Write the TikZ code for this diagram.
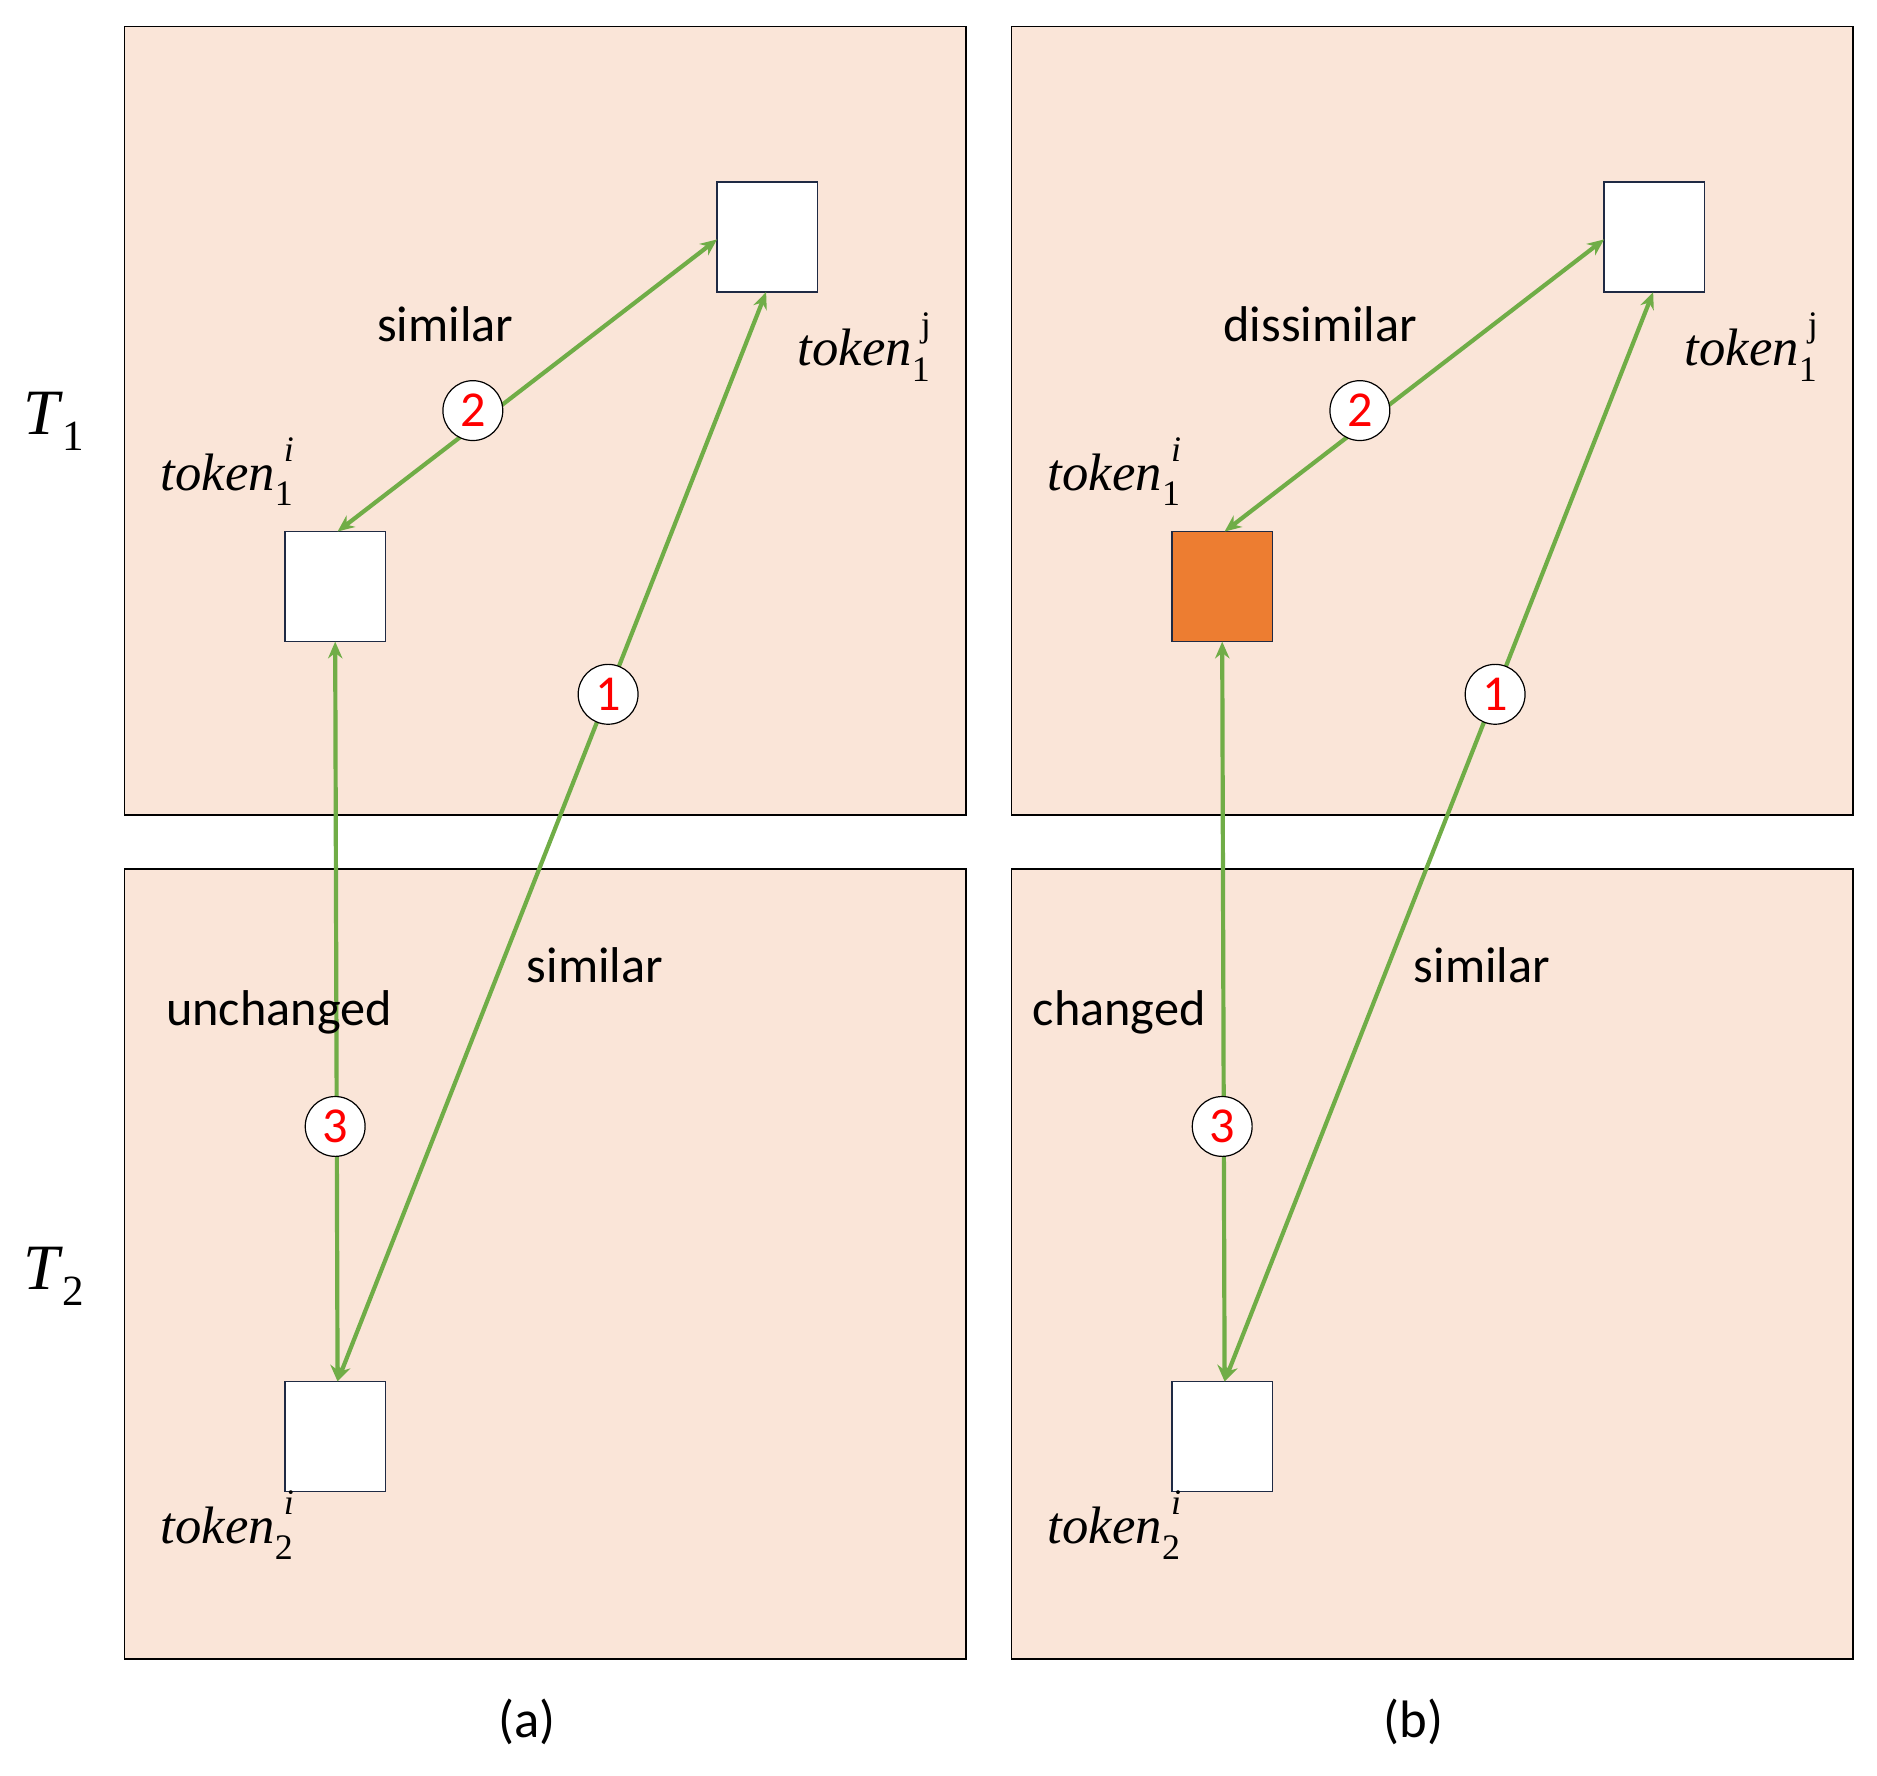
\documentclass[tikz,border=0pt]{standalone}
\usepackage{fontspec}
\setmainfont{Carlito}
\newfontfamily\mserif{Liberation Serif}
\usetikzlibrary{arrows.meta}
\definecolor{panel}{HTML}{FAE5D8}
\definecolor{grn}{HTML}{70AD47}
\definecolor{org}{HTML}{ED7D31}
\definecolor{edge}{HTML}{1F2A44}
\newcommand{\mytok}[3]{{\mserif\itshape token}\rlap{\raisebox{-0.3em}{\fontsize{30}{30}\selectfont\mserif #1}}\raisebox{0.55em}{\fontsize{30}{30}\selectfont\mserif#3 #2}}
\begin{document}
\begin{tikzpicture}[x=1pt,y=-1pt,
 panelbox/.style={draw=black,fill=panel,line width=1.2pt},
 tok/.style={draw=edge,fill=white,line width=1.2pt,minimum width=84pt,minimum height=92pt,inner sep=0pt},
 con/.style={grn,line width=3.5pt,{Stealth[length=14pt,width=12pt]}-{Stealth[length=14pt,width=12pt]}},
 num/.style={circle,draw=black,fill=white,line width=1pt,minimum size=50pt,inner sep=0pt,text=red,font=\fontsize{42}{42}\selectfont},
 lab/.style={font=\fontsize{42}{44}\selectfont},
 mlab/.style={font=\fontsize{44}{46}\selectfont},
 big/.style={font=\fontsize{54}{56}\selectfont\mserif}]
\useasboundingbox (0,0) rectangle (1568,1483);
\node[big] (t1) at (45,352) {\textit{T}\raisebox{-0.25em}{\fontsize{36}{36}\selectfont 1}};
\node[big] (t2) at (45,1066) {\textit{T}\raisebox{-0.25em}{\fontsize{36}{36}\selectfont 2}};
\foreach \dx/\p/\low/\fillc in {0/a/(a)/white, 741/b/(b)/org}{
 \begin{scope}[xshift=\dx]
 \draw[panelbox] (104,22) rectangle (807,681);
 \draw[panelbox] (104,726) rectangle (807,1386);
 \node[tok] (j\p) at (641,198) {};
 \node[tok,fill=\fillc] (i\p) at (280,490) {};
 \node[tok] (k\p) at (280,1200) {};
 \coordinate (jl\p) at (599,200);
 \coordinate (jb\p) at (640,244);
 \coordinate (it\p) at (282,444);
 \coordinate (ib\p) at (280,536);
 \coordinate (kt\p) at (282,1154);
 \draw[con] (it\p) -- (jl\p);
 \draw[con] (kt\p) -- (jb\p);
 \draw[con] (ib\p) -- (kt\p);
 \node[num] (n2\p) at (395,343) {2};
 \node[num] (n1\p) at (508,580) {1};
 \node[num] (n3\p) at (280,941) {3};
 \node[mlab] (lj\p) at (722,290) {\mytok{1}{j}{\upshape}};
 \node[mlab] (li\p) at (190,394) {\mytok{1}{i}{\itshape}};
 \node[mlab] (lk\p) at (190,1274) {\mytok{2}{i}{\itshape}};
 \node[lab] (s1\p) at (497,806) {similar};
 \node[lab] (cap\p) at (440,1438) {\fontsize{44}{46}\selectfont\low};
 \end{scope}}
\node[lab] (s2a) at (372,271) {similar};
\node[lab] (s2b) at (1103,271) {dissimilar};
\node[lab] (ua) at (233,846) {unchanged};
\node[lab] (ub) at (935,846) {changed};
\end{tikzpicture}
\end{document}
